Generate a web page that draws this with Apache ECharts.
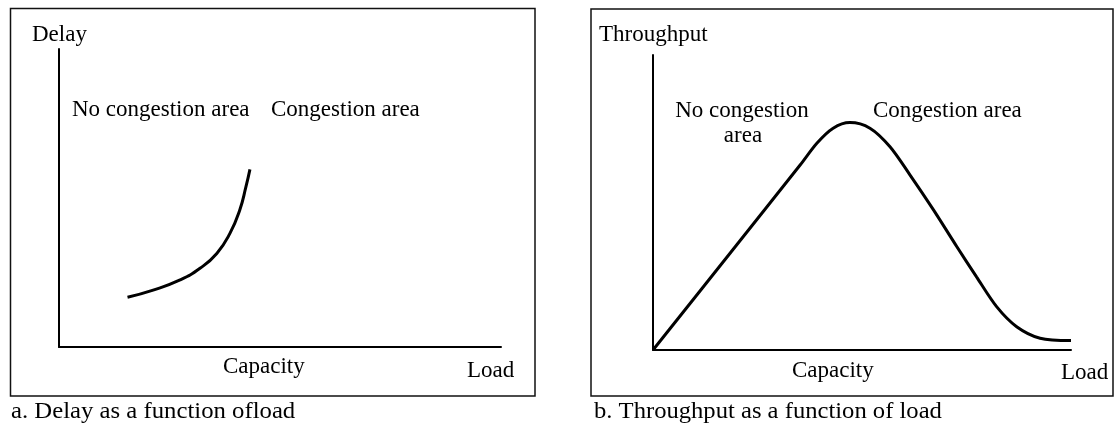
<!DOCTYPE html>
<html>
<head>
<meta charset="utf-8">
<title>Delay / Throughput vs Load</title>
<script src="https://cdn.jsdelivr.net/npm/echarts@6/dist/echarts.min.js"></script>
<style>
  html, body { margin: 0; padding: 0; background: #fff; }
  #main { width: 1116px; height: 424px; }
</style>
</head>
<body>
<div id="main"></div>
<script>
// 图 a：延迟随负载变化（0-100 相对刻度）
var delayLoad = [15.5, 21.3, 27.4, 31.9, 35.7, 38.7, 40.9, 42.3, 43.2];
var delayValue = [16.7, 19.1, 22.5, 26.4, 31.4, 38.2, 46.0, 53.8, 59.6];

// 图 b：吞吐量随负载变化
var throughputLoad = [0, 20, 35.2, 39.2, 43.1, 47.1, 51.9, 56.7, 61.5, 67.1, 72.7, 77.4, 82.2, 87.0, 92.6, 100];
var throughputValue = [0, 35.6, 62.7, 70.1, 75.2, 77.1, 75.2, 68.9, 59.3, 47.5, 35.0, 24.8, 14.7, 7.9, 4.0, 3.2];

// 文字
var axisNames = ["Delay", "Throughput"];
var areaLabels = ["No congestion area", "Congestion area"];
var captions = ["a. Delay as a function ofload", "b. Throughput as a function of load"];

var serif = "Liberation Serif";

function pairs(xs, ys) {
  return xs.map(function (x, i) { return [x, ys[i]]; });
}

function txt(text, x, y, opts) {
  return {
    type: "text",
    x: x,
    y: y,
    scaleX: (opts && opts.scaleX) || 1,
    style: {
      text: text,
      fill: "#000",
      font: "23px '" + serif + "'",
      textAlign: (opts && opts.align) || "left",
      textVerticalAlign: "middle"
    }
  };
}

function box(x1, y1, x2, y2) {
  return {
    type: "rect",
    shape: { x: x1, y: y1, width: x2 - x1, height: y2 - y1 },
    style: { fill: "none", stroke: "#111", lineWidth: 1.5 }
  };
}

var plainAxis = function (idx) {
  return {
    type: "value",
    gridIndex: idx,
    min: 0,
    max: 100,
    axisLine: { show: true, onZero: false, lineStyle: { color: "#000", width: 2 } },
    axisTick: { show: false },
    axisLabel: { show: false },
    splitLine: { show: false }
  };
};

var myChart = echarts.init(document.getElementById("main"));
var option = {
  backgroundColor: "#fff",
  animation: false,
  grid: [
    { left: 59, top: 49, width: 442, height: 298 },
    { left: 653, top: 55, width: 418, height: 295 }
  ],
  xAxis: [plainAxis(0), plainAxis(1)],
  yAxis: [plainAxis(0), plainAxis(1)],
  series: [
    {
      type: "line",
      xAxisIndex: 0,
      yAxisIndex: 0,
      data: pairs(delayLoad, delayValue),
      smooth: 0.5,
      showSymbol: false,
      lineStyle: { color: "#000", width: 3 }
    },
    {
      type: "line",
      xAxisIndex: 1,
      yAxisIndex: 1,
      data: pairs(throughputLoad, throughputValue),
      smooth: 0.3,
      showSymbol: false,
      lineStyle: { color: "#000", width: 3 }
    }
  ],
  graphic: [
    // 外框
    box(10.5, 8.5, 535, 396),
    box(591, 9, 1113, 396),
    // 图 a 文字
    txt(axisNames[0], 32, 35),
    txt(areaLabels[0], 72, 110),
    txt(areaLabels[1], 271, 110),
    txt("Capacity", 223, 367),
    txt("Load", 467, 371),
    txt(captions[0], 11, 412, { scaleX: 1.075 }),
    // 图 b 文字
    txt(axisNames[1], 599, 35),
    txt("No congestion", 742, 111, { align: "center" }),
    txt("area", 743, 136, { align: "center" }),
    txt(areaLabels[1], 873, 111),
    txt("Capacity", 792, 371),
    txt("Load", 1061, 373),
    txt(captions[1], 594, 412, { scaleX: 1.07 })
  ]
};

option && myChart.setOption(option);
window.addEventListener("resize", function () {
  myChart.resize();
});
</script>
</body>
</html>
